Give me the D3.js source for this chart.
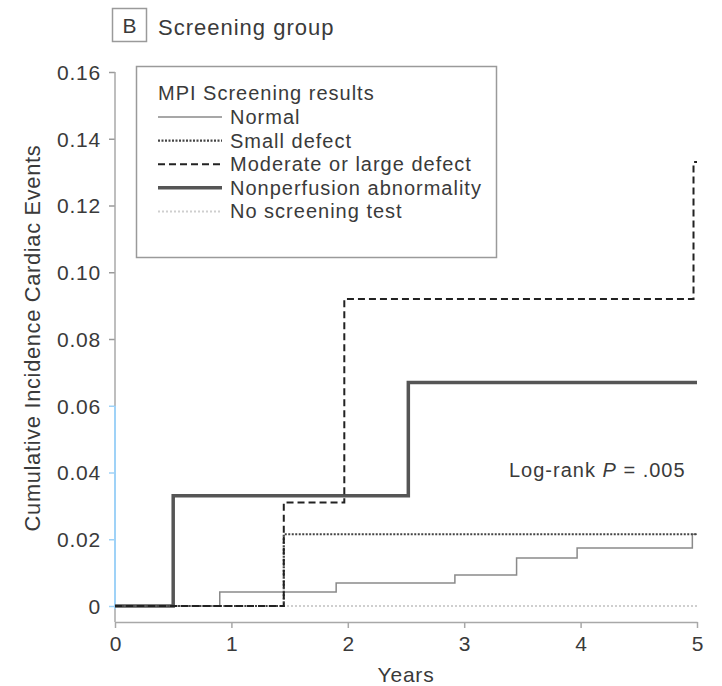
<!DOCTYPE html>
<html>
<head>
<meta charset="utf-8">
<script src="https://cdn.jsdelivr.net/npm/d3@7"></script>
<style>
  body { margin: 0; background: #fff; }
  svg text { font-family: "Liberation Sans", Arial, sans-serif; fill: #3a3a3a; }
</style>
</head>
<body>
<div id="chart"></div>
<script>
(() => {
// step data (years, cumulative incidence)
const normalTimes = [0, 0.9, 1.9, 2.92, 3.45, 3.97, 4.96, 5];
const normalValues = [0, 0.0042, 0.0069, 0.0093, 0.0144, 0.0174, 0.0215, 0.0215];
const smallTimes = [0, 1.45, 5];
const smallValues = [0, 0.0215, 0.0215];
const moderateTimes = [0, 1.45, 1.97, 4.97, 5];
const moderateValues = [0, 0.031, 0.092, 0.133, 0.133];
const nonperfTimes = [0, 0.5, 2.52, 5];
const nonperfValues = [0, 0.033, 0.067, 0.067];
const noTestTimes = [0, 5];
const noTestValues = [0, 0];

const legendLabels = ['Normal', 'Small defect', 'Moderate or large defect', 'Nonperfusion abnormality', 'No screening test'];
const yTicks = [0, 0.02, 0.04, 0.06, 0.08, 0.10, 0.12, 0.14, 0.16];
const yTickLabels = ['0', '0.02', '0.04', '0.06', '0.08', '0.10', '0.12', '0.14', '0.16'];
const xTicks = [0, 1, 2, 3, 4, 5];

const width = 722, height = 686;
const svg = d3.select('#chart').append('svg')
    .attr('width', width)
    .attr('height', height);

const x = d3.scaleLinear().domain([0, 5]).range([115, 697]);
const y = d3.scaleLinear().domain([0, 0.16]).range([606, 72]);
const axisY = 622;

// panel header
svg.append('rect').attr('x', 112.5).attr('y', 8.5).attr('width', 34).attr('height', 33)
    .attr('fill', 'none').attr('stroke', '#9a9a9a').attr('stroke-width', 1.5);
svg.append('text').attr('x', 129.5).attr('y', 33).attr('text-anchor', 'middle')
    .style('font-size', '21px').text('B');
svg.append('text').attr('x', 158).attr('y', 35)
    .style('font-size', '22px').style('letter-spacing', '1px').text('Screening group');

// y axis
const yAxis = d3.axisLeft(y).tickValues(yTicks).tickSize(6).tickSizeOuter(0).tickPadding(8)
    .tickFormat((d, i) => yTickLabels[i]);
const gy = svg.append('g').attr('transform', `translate(${x(0)},0)`).call(yAxis);
gy.select('.domain').remove();
gy.selectAll('.tick line').attr('stroke', '#9a9a9a').attr('stroke-width', 1.5);
gy.selectAll('.tick text').style('font-size', '21px').style('letter-spacing', '0.8px')
    .attr('fill', '#3a3a3a').attr('dy', '0.35em');
svg.append('line').attr('x1', x(0)).attr('x2', x(0)).attr('y1', y(0.16)).attr('y2', axisY)
    .attr('stroke', '#a8a8a8').attr('stroke-width', 1.5);
// light blue stretch of the axis near the origin
svg.append('line').attr('x1', x(0)).attr('x2', x(0)).attr('y1', y(0.06)).attr('y2', y(0) + 3)
    .attr('stroke', '#9fd2f7').attr('stroke-width', 2);
gy.selectAll('.tick line').filter(d => d <= 0.06).attr('stroke', '#9fd2f7');

// x axis
const xAxis = d3.axisBottom(x).tickValues(xTicks).tickSize(6).tickSizeOuter(0).tickPadding(8)
    .tickFormat(d3.format('d'));
const gx = svg.append('g').attr('transform', `translate(0,${axisY})`).call(xAxis);
gx.select('.domain').attr('stroke', '#a8a8a8').attr('stroke-width', 1.5);
gx.selectAll('.tick line').attr('stroke', '#a8a8a8').attr('stroke-width', 1.5);
gx.selectAll('.tick text').style('font-size', '21px').attr('fill', '#3a3a3a');

// axis titles
svg.append('text').attr('x', x(2.5)).attr('y', 682).attr('text-anchor', 'middle')
    .style('font-size', '21px').style('letter-spacing', '0.8px').text('Years');
svg.append('text').attr('transform', `translate(40,338) rotate(-90)`)
    .attr('text-anchor', 'middle').style('font-size', '21.8px').style('letter-spacing', '0.7px')
    .text('Cumulative Incidence Cardiac Events');

// curves
const series = [
    { times: noTestTimes, values: noTestValues, color: '#cfcfcf', width: 2, dash: '2,2' },
    { times: normalTimes, values: normalValues, color: '#8a8a8a', width: 1.5, dash: null },
    { times: nonperfTimes, values: nonperfValues, color: '#555', width: 3.5, dash: null },
    { times: smallTimes, values: smallValues, color: '#444', width: 2.2, dash: '2,1.5' },
    { times: moderateTimes, values: moderateValues, color: '#222', width: 2, dash: '7,4' }
];
const line = d3.line().curve(d3.curveStepAfter)
    .x(d => x(d[0])).y(d => y(d[1]));
series.forEach(s => {
    svg.append('path')
        .datum(s.times.map((t, i) => [t, s.values[i]]))
        .attr('d', line)
        .attr('fill', 'none')
        .attr('stroke', s.color)
        .attr('stroke-width', s.width)
        .attr('stroke-dasharray', s.dash);
});

// legend
const legendStyles = [series[1], series[3], series[4], series[2], series[0]];
const lg = svg.append('g');
lg.append('rect').attr('x', 136.5).attr('y', 66.5).attr('width', 360).attr('height', 191)
    .attr('fill', '#fff').attr('stroke', '#9a9a9a').attr('stroke-width', 1.5);
lg.append('text').attr('x', 158).attr('y', 100).style('font-size', '20px')
    .style('letter-spacing', '1px').text('MPI Screening results');
legendLabels.forEach((label, i) => {
    const ly = 117 + i * 23.6;
    const st = legendStyles[i];
    lg.append('line').attr('x1', 158).attr('x2', 222).attr('y1', ly).attr('y2', ly)
        .attr('stroke', st.color).attr('stroke-width', st.width).attr('stroke-dasharray', st.dash);
    lg.append('text').attr('x', 230).attr('y', ly + 7).style('font-size', '20px')
        .style('letter-spacing', '1px').text(label);
});

// log-rank annotation
const ann = svg.append('text').attr('x', 509).attr('y', 477).style('font-size', '20px')
    .style('letter-spacing', '1px');
ann.append('tspan').text('Log-rank ');
ann.append('tspan').style('font-style', 'italic').text('P');
ann.append('tspan').text(' = .005');
})();
</script>
</body>
</html>
